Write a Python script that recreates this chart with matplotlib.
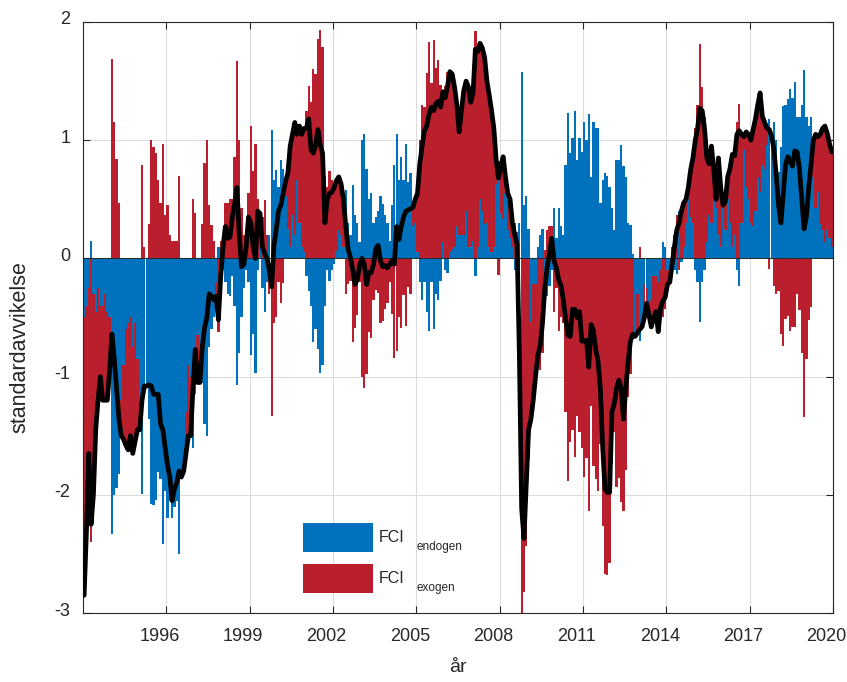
import numpy as np
import matplotlib
matplotlib.use("Agg")
import matplotlib.pyplot as plt
import matplotlib.transforms as mtransforms
from matplotlib.patches import Patch

# Monthly FCI decomposition, January 1993 - December 2019 (one row per year)
start_year = 1993
endogen = [
    -0.50, -0.40, -0.25, 0.15, -0.30, -0.45, -0.25, -0.40, -0.40, -0.30, -0.45, -0.50,   # 1993
    -2.33, -2.00, -1.94, -1.82, -1.20, -0.90, -0.60, -0.55, -0.50, -0.75, -0.55, -0.85,  # 1994
    -1.30, -1.99, -1.18, -1.08, -1.36, -2.08, -2.09, -2.04, -1.81, -1.87, -2.42, -1.97,  # 1995
    -2.20, -2.05, -2.20, -2.10, -2.05, -2.50, -1.85, -1.80, -1.30, -0.90, -1.00, -1.60,  # 1996
    -1.15, -0.65, -0.80, -1.05, -1.40, -1.50, -0.75, -0.60, -0.50, -0.20, 0.10, -0.30,   # 1997
    -0.10, -0.20, -0.30, -0.32, -0.15, -0.40, -1.07, -0.80, -0.50, -0.25, -0.10, -0.20,  # 1998
    -0.82, -0.64, -0.97, -0.10, 0.10, -0.25, -0.45, -0.20, 0.20, 1.09, 0.66, 0.75,       # 1999
    0.60, 0.83, 0.76, 0.53, 0.25, 0.10, 0.37, 0.20, 0.66, 0.30, 0.10, 0.05,              # 2000
    -0.15, -0.28, -0.40, -0.71, -0.60, -0.77, -0.97, -0.90, -0.40, -0.10, -0.19, -0.10,  # 2001
    -0.05, 0.06, 0.24, 0.20, 0.10, 0.58, 0.30, 0.20, 0.62, 0.37, 0.30, 0.14,             # 2002
    1.00, 1.05, 0.76, 0.50, 0.55, 0.30, 0.35, 0.40, 0.53, 0.46, 0.37, 0.30,              # 2003
    0.15, 0.45, 0.79, 1.05, 0.66, 0.86, 0.66, 0.97, 0.65, 0.72, 0.27, 0.30,              # 2004
    0.05, -0.20, -0.35, -0.20, -0.45, -0.61, -0.20, -0.60, -0.30, -0.35, -0.19, 0.14,    # 2005
    -0.10, -0.12, 0.05, 0.08, 0.10, 0.27, 0.20, 0.20, 0.20, 0.40, 0.10, 0.10,            # 2006
    0.15, -0.15, 0.10, 0.50, 0.40, 0.29, 0.30, 0.10, 0.05, 0.10, 0.63, 0.82,             # 2007
    0.38, 0.33, 0.55, 0.24, 0.17, 0.10, -0.10, -0.10, 0.30, 1.58, 0.45, 0.53,            # 2008
    0.25, -0.54, -0.22, -0.22, 0.10, 0.20, 0.25, -0.32, -0.32, -0.23, -0.10, 0.43,       # 2009
    0.17, 0.43, 0.27, 0.20, 0.79, 1.23, 0.89, 1.02, 1.25, 0.83, 1.02, 0.90,              # 2010
    1.15, 1.00, 1.22, 0.69, 1.15, 1.10, 1.10, 0.47, 0.66, 0.72, 0.70, 0.60,              # 2011
    0.43, 0.24, 0.83, 0.83, 0.96, 0.78, 0.69, 0.30, 0.28, 0.04, -0.64, -0.30,            # 2012
    -0.70, -0.58, -0.22, -0.25, -0.41, -0.35, -0.15, -0.15, -0.20, -0.10, 0.14, 0.10,    # 2013
    -0.10, -0.15, -0.15, -0.10, -0.13, 0.40, -0.03, 0.10, 0.30, 0.50, 0.35, 0.30,        # 2014
    -0.10, -0.20, -0.54, -0.20, -0.10, 0.14, 0.37, 0.30, 0.63, 0.43, 0.20, 0.10,         # 2015
    0.43, 0.24, 0.50, 0.30, 0.10, 0.20, -0.10, -0.23, 0.30, 0.92, 0.60, 0.50,            # 2016
    0.30, 0.27, 0.40, 0.69, 0.56, 0.79, 0.76, 0.96, 1.18, 1.00, 1.15, 1.00,              # 2017
    0.73, 0.94, 1.29, 1.30, 1.35, 1.43, 1.36, 1.49, 1.20, 1.20, 1.30, 1.59,              # 2018
    1.20, 1.12, 1.20, 0.69, 0.43, 0.56, 0.29, 0.24, 0.14, 0.24, 0.17, 0.10,              # 2019
]
exogen = [
    -2.35, -1.90, -1.40, -2.40, -1.70, -1.00, -0.95, -0.60, -0.80, -0.90, -0.75, -0.45,  # 1993
    1.69, 1.15, 0.84, 0.47, -0.30, -0.63, -0.98, -1.07, -1.00, -0.90, -1.00, -0.60,      # 1994
    -0.15, 0.79, 0.10, 0.00, 0.29, 1.00, 0.94, 0.89, 0.66, 0.47, 0.97, 0.37,            # 1995
    0.45, 0.20, 0.15, 0.15, 0.15, 0.70, 0.00, 0.00, -0.35, -0.60, -0.50, 0.50,           # 1996
    0.38, -0.40, -0.25, 0.29, 0.81, 1.00, 0.45, 0.28, 0.15, -0.12, -0.62, 0.15,          # 1997
    0.20, 0.47, 0.47, 0.50, 0.50, 0.86, 1.67, 1.00, 0.43, 0.20, 0.20, 0.55,              # 1998
    1.12, 0.74, 0.97, 0.50, 0.28, 0.35, 0.49, 0.20, -0.30, -1.33, -0.55, -0.50,          # 1999
    -0.20, -0.38, -0.21, 0.12, 0.47, 0.85, 0.68, 0.95, 0.39, 0.82, 0.95, 1.05,           # 2000
    1.25, 1.46, 1.32, 1.60, 1.56, 1.86, 1.93, 1.79, 0.70, 0.60, 0.74, 0.66,              # 2001
    0.65, 0.60, 0.45, 0.43, 0.40, -0.30, -0.22, -0.19, -0.71, -0.59, -0.48, -0.20,       # 2002
    -1.00, -1.10, -0.98, -0.62, -0.67, -0.35, -0.27, -0.29, -0.55, -0.53, -0.43, -0.38,  # 2003
    -0.20, -0.47, -0.84, -0.78, -0.50, -0.59, -0.31, -0.57, -0.24, -0.30, 0.16, 0.20,    # 2004
    0.50, 1.00, 1.30, 1.28, 1.57, 1.83, 1.48, 1.85, 1.61, 1.68, 1.47, 1.27,              # 2005
    1.46, 1.58, 1.53, 1.48, 1.35, 1.03, 0.87, 1.05, 1.22, 1.10, 1.35, 1.22,              # 2006
    1.25, 1.92, 1.65, 1.32, 1.38, 1.41, 1.20, 1.28, 1.20, 1.00, 0.20, -0.14,             # 2007
    0.40, 0.53, 0.14, 0.31, 0.33, 0.20, 0.30, 0.22, -1.10, -3.70, -2.82, -2.43,          # 2008
    -1.70, -0.82, -0.98, -0.78, -0.92, -0.94, -0.80, 0.07, 0.24, 0.27, 0.27, -0.45,      # 2009
    -0.25, -0.61, -0.50, -0.55, -1.30, -1.88, -1.55, -1.45, -1.68, -1.33, -1.47, -1.60,  # 2010
    -1.85, -1.69, -2.14, -1.25, -1.76, -1.87, -1.97, -1.57, -2.26, -2.67, -2.68, -2.58,  # 2011
    -1.73, -1.47, -1.93, -1.86, -2.06, -2.14, -1.79, -1.17, -0.98, -0.68, -0.02, -0.33,  # 2012
    0.10, 0.00, -0.28, -0.13, -0.07, -0.23, -0.35, -0.30, -0.42, -0.32, -0.50, -0.43,    # 2013
    -0.12, -0.05, 0.10, 0.20, 0.37, -0.10, 0.43, 0.37, 0.20, 0.10, 0.40, 0.55,           # 2014
    1.10, 1.30, 1.81, 1.45, 1.20, 0.71, 0.43, 0.65, 0.12, 0.07, 0.65, 0.50,              # 2015
    0.02, 0.24, 0.19, 0.46, 0.78, 0.67, 1.15, 1.31, 0.75, 0.11, 0.47, 0.55,              # 2016
    0.70, 0.82, 0.78, 0.61, 0.84, 0.41, 0.39, 0.14, -0.09, 0.03, -0.23, -0.30,           # 2017
    -0.28, -0.64, -0.74, -0.51, -0.49, -0.61, -0.58, -0.58, -0.30, -0.44, -0.80, -1.34,  # 2018
    -0.85, -0.52, -0.41, 0.31, 0.62, 0.47, 0.76, 0.86, 0.98, 0.82, 0.80, 0.80,           # 2019
]
tick_years = [1996, 1999, 2002, 2005, 2008, 2011, 2014, 2017, 2020]
y_ticks = [-3, -2, -1, 0, 1, 2]
legend_labels = ["FCI", "FCI"]
legend_subs = ["endogen", "exogen"]

BLUE = "#0072BD"
RED = "#BA1F2E"
AXC = "#262626"

plt.rcParams["font.family"] = ["Liberation Sans", "DejaVu Sans"]
plt.rcParams["axes.unicode_minus"] = False

endo = np.array(endogen)
exo = np.array(exogen)
total = endo + exo
months = np.arange(len(endo))
x = start_year + (months + 0.5) / 12.0

W, H = 847, 682
fig = plt.figure(figsize=(W / 100, H / 100), dpi=100)
ax = fig.add_axes([83 / W, 1 - 613 / H, 750 / W, 591 / H])

# stacked bars: endogenous part next to zero, exogenous part stacked outward
ax.bar(x, endo, width=1 / 12, color=BLUE, linewidth=0, zorder=2)
same_sign = np.sign(exo) == np.sign(endo)
exo_bottom = np.where(same_sign, endo, 0.0)
ax.bar(x, exo, width=1 / 12, bottom=exo_bottom, color=RED, linewidth=0, zorder=2)
ax.axhline(0, color=AXC, lw=0.7, zorder=3)
ax.plot(x, total, color="black", lw=3.4, solid_joinstyle="round",
        solid_capstyle="round", zorder=4)

ax.set_xlim(start_year, 2020)
ax.set_ylim(-3, 2)
ax.set_xticks(tick_years)
ax.set_xticklabels([str(t) for t in tick_years])
ax.set_yticks(y_ticks)
ax.set_yticklabels([str(t) for t in y_ticks])
ax.grid(True, color="#DCDCDC", lw=0.8, zorder=0)
ax.set_axisbelow(True)
ax.tick_params(direction="in", top=True, right=True, length=5, width=0.8,
               colors=AXC, labelsize=13, labelcolor=AXC)
ax.tick_params(axis="x", pad=11)
ax.tick_params(axis="y", pad=9)
for sp in ax.spines.values():
    sp.set_color(AXC)
    sp.set_linewidth(0.8)

# tick labels sit slightly left of / above their ticks
x_shift = mtransforms.ScaledTranslation(-6.5 / 100, 0, fig.dpi_scale_trans)
for lbl in ax.get_xticklabels():
    lbl.set_transform(lbl.get_transform() + x_shift)
y_shift = mtransforms.ScaledTranslation(0, 4 / 100, fig.dpi_scale_trans)
for lbl in ax.get_yticklabels():
    lbl.set_transform(lbl.get_transform() + y_shift)

ax.set_xlabel("år", fontsize=14, color=AXC)
ax.xaxis.set_label_coords(0.5, (613 - 659) / 591)
ax.set_ylabel("standardavvikelse", fontsize=15.5, color=AXC)
ax.yaxis.set_label_coords((30 - 83) / 750, 0.45)

handles = [Patch(facecolor=BLUE, edgecolor="none"), Patch(facecolor=RED, edgecolor="none")]
leg = ax.legend(handles, legend_labels, loc="upper left", bbox_to_anchor=(0.293, 0.152),
                frameon=False, fontsize=11.5, handlelength=4.4, handleheight=2.4,
                labelspacing=0.75, handletextpad=0.35, borderpad=0, borderaxespad=0)
for t in leg.get_texts():
    t.set_color(AXC)

# subscripts next to each legend entry
fig.canvas.draw()
renderer = fig.canvas.get_renderer()
for t, sub in zip(leg.get_texts(), legend_subs):
    bb = t.get_window_extent(renderer)
    base_y = bb.y0 + 3.4
    fig.text((bb.x1 + 12) / W, (base_y - 8) / H, sub, fontsize=8.5,
             color=AXC, va="baseline", ha="left")

fig.savefig("out.png", dpi=100)
